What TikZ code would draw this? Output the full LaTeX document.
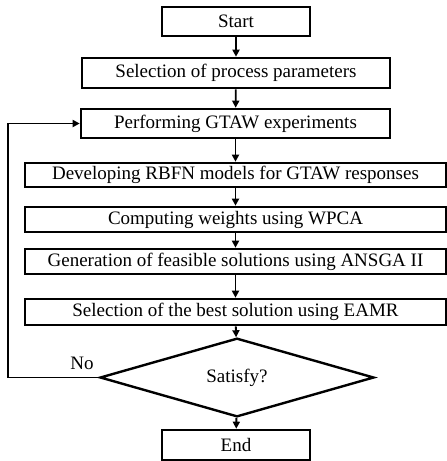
\documentclass[tikz,border=0pt]{standalone}
\usepackage{fontspec}
\setmainfont{Liberation Serif}
\usetikzlibrary{shapes.geometric,arrows.meta}

\begin{document}
\begin{tikzpicture}[x=1pt,y=1pt,every node/.style={font=\fontsize{19}{22}\selectfont},box/.style={draw, line width=2.6pt, shape=rectangle, inner sep=0pt},wide/.style={box, minimum width=421pt},decision/.style={draw, line width=2.4pt, shape=diamond, inner sep=0pt, minimum width=274pt, minimum height=55pt},flow/.style={line width=1.8pt, -{Triangle[length=7pt,width=7pt]}}]
\useasboundingbox (0,0) rectangle (447,-461);
\node[box, minimum width=148pt, minimum height=29pt] (start) at (236,-21.5) {Start};
\node[box, minimum width=308pt, minimum height=30pt] (param) at (236,-73) {Selection of process parameters};
\node[box, minimum width=309pt, minimum height=29pt] (expt) at (235.5,-123.5) {Performing GTAW experiments};
\node[wide, minimum height=24pt] (rbfn) at (235.5,-175) {Developing RBFN models for GTAW responses};
\node[wide, minimum height=25pt] (wpca) at (235.5,-219.5) {Computing weights using WPCA};
\node[wide, minimum height=25pt] (nsga) at (235.5,-261.5) {Generation of feasible solutions using ANSGA II};
\node[wide, minimum height=26pt] (eamr) at (235.5,-312) {Selection of the best solution using EAMR};
\node[decision] (satisfy) at (237,-377.5) {Satisfy?};
\node[box, minimum width=148pt, minimum height=30pt] (end) at (236,-445) {End};
\node[draw=none] (no) at (82,-363) {No};
\coordinate (back) at (8,-377.5);
% main flow
\draw[flow] (start) -- (param);
\draw[flow] (param) -- (expt);
\draw[flow] (expt) -- (rbfn);
\draw[flow] (rbfn) -- (wpca);
\draw[flow] (wpca) -- (nsga);
\draw[flow] (nsga) -- (eamr);
\draw[flow] (eamr) -- (satisfy);
\draw[flow] (satisfy) -- (end);
% loop back
\draw[flow] (satisfy.west) -- (back) |- (expt.west);
\end{tikzpicture}
\end{document}
